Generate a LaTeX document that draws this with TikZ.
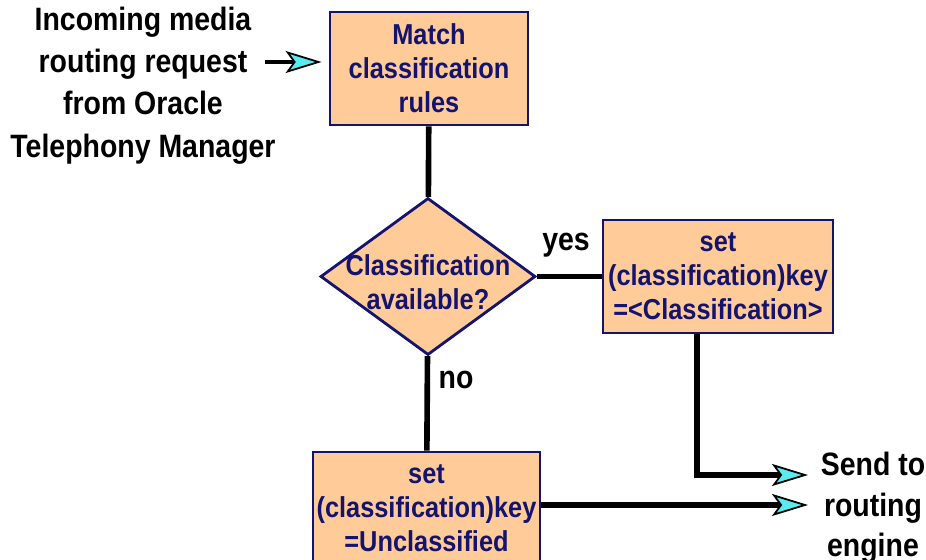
\documentclass[tikz,border=0pt]{standalone}
\usepackage{fontspec}
\newfontfamily\diagfont{Liberation Sans}[FakeStretch=0.88]
\usepackage{xcolor}
\usetikzlibrary{positioning, arrows.meta, shapes, calc}

\definecolor{peach}{RGB}{255,204,153}
\definecolor{navy}{RGB}{20,20,110}
\definecolor{tipcyan}{RGB}{90,235,240}

\begin{document}
\begin{tikzpicture}[
    font=\diagfont\bfseries,
    box/.style={rectangle, draw=navy, fill=peach, line width=0.8pt, minimum width=1.98cm, minimum height=1.13cm, inner xsep=0.5pt, align=center, text=navy, font=\diagfont\bfseries\fontsize{8.2}{9.7}\selectfont},
    decision/.style={diamond, draw=navy, fill=peach, line width=0.8pt, minimum width=2.15cm, minimum height=1.57cm, inner sep=0pt},
    note/.style={align=center, font=\diagfont\bfseries\fontsize{9.2}{12}\selectfont},
    flow/.style={line width=1.6pt},
    arrow/.style={-{Stealth[length=0.36cm, width=0.22cm, inset=0.08cm, fill=tipcyan, line width=0.5pt]}, line width=1.6pt}
]

\useasboundingbox (0,0) rectangle (9.26,5.6);

% Incoming request
\node[note] (incoming) at (1.43, 4.745) {Incoming media\\routing request\\from Oracle\\Telephony Manager};
\coordinate (req) at (2.65, 4.98);

% Boxes
\node[box] (match) at (4.29, 4.915) {Match\\classification\\rules};
\node[decision] (decide) at (4.28, 2.835) {};
\node[text=navy, align=center, font=\diagfont\bfseries\fontsize{8.2}{9.7}\selectfont] (decidetext) at ([yshift=-0.06cm]decide.center) {Classification\\available?};
\node[box, minimum width=2.30cm] (setkey) at (7.18, 2.835) {set\\(classification)key\\=<Classification>};
\node[box, minimum width=2.27cm] (setnone) at (4.265, 0.515) {set\\(classification)key\\=Unclassified};

% Labels
\node[note] (yes) at (5.66, 3.15) {yes};
\node[note] (no) at (4.56, 1.8) {no};
\node[note, font=\diagfont\bfseries\fontsize{9.2}{11.5}\selectfont] (send) at (8.73, 0.52) {Send to\\routing\\engine};

% Connectors
\coordinate (endtop) at (8.08, 0.85);
\coordinate (endbot) at (8.08, 0.55);
\draw[arrow, line width=1.2pt, shorten >=0.07cm] (req) -- (req -| match.west);
\draw[flow] (match) -- (decide);
\draw[flow] (decide) -- (setkey);
\draw[flow] (decide) -- (setnone);
\draw[arrow] ([xshift=-0.21cm]setkey.south) |- (endtop);
\draw[arrow] (setnone.east |- endbot) -- (endbot);

\end{tikzpicture}
\end{document}
